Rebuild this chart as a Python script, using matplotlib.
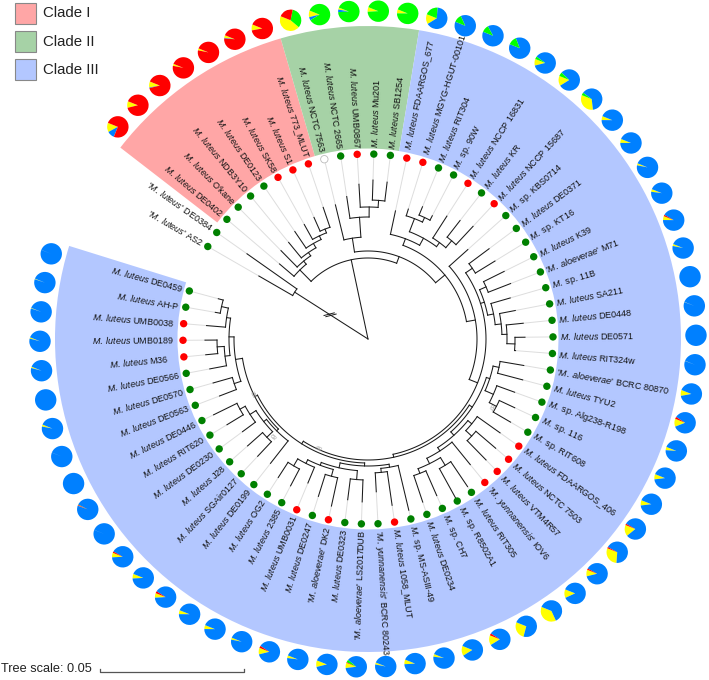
import numpy as np
import matplotlib
matplotlib.use("Agg")
import matplotlib.pyplot as plt
from matplotlib.patches import Wedge, Rectangle, Circle

plt.rcParams['font.family'] = ['Liberation Sans', 'DejaVu Sans']
plt.rcParams['mathtext.fontset'] = 'custom'
plt.rcParams['mathtext.it'] = 'Liberation Sans:italic'
plt.rcParams['mathtext.rm'] = 'Liberation Sans'

ML = r"$\mathit{M.\;luteus}$"
MS = r"$\mathit{M.}$ sp."
AL = r"'$\mathit{M.\;aloeverae}$'"
YU = r"'$\mathit{M.\;yunnanensis}$'"
QL = r"'$\mathit{M.\;luteus}$'"

taxa = [QL+" AS2", QL+" DE0384", ML+" DE0402", ML+" O'kane", ML+" NDB3Y10", ML+" DE0123", ML+" SK58", ML+" S1",
        ML+" 773_MLUT", ML+" NCTC 7563", ML+" NCTC 2665", ML+" UMB0867", ML+" Mu201", ML+" SB1254",
        ML+" FDAARGOS_677", ML+" MGYG-HGUT-00101", ML+" RIT304", MS+" 90W", ML+" NCCP 16831", ML+" KR",
        ML+" NCCP 15687", MS+" KBS0714", ML+" DE0371", MS+" KT16", ML+" K39", AL+" M71", MS+" 11B", ML+" SA211",
        ML+" DE0448", ML+" DE0571", ML+" RIT324w", AL+" BCRC 80870", ML+" TYU2", MS+" Alg238-R198", MS+" 116",
        MS+" RIT608", ML+" FDAARGOS_406", ML+" NCTC 7503", ML+" VTM4R57", YU+" IOV6", ML+" RIT305", MS+" R8502A1",
        MS+" CH7", ML+" DE0234", MS+" MS-ASIII-49", ML+" 1058_MLUT", YU+" BCRC 80243", AL+" LS2017DUB",
        ML+" DE0323", AL+" DK2", ML+" DE0247", ML+" UMB0031", ML+" 2385", ML+" OG2", ML+" DE0199", ML+" SGAir0127",
        ML+" J28", ML+" DE0230", ML+" RIT620", ML+" DE0446", ML+" DE0563", ML+" DE0570", ML+" DE0566", ML+" M36",
        ML+" UMB0189", ML+" UMB0038", ML+" AH-P", ML+" DE0459"]

red_tips = [7, 8, 9, 12, 15, 16, 19, 21, 37, 38, 39, 40, 46, 50, 52, 64, 65, 66]
white_tips = [10]
label_extra = {15: 2, 16: 2, 64: 9, 65: 3, 66: 3}

# distance from root of each tip's black branch (in pixels of tree radius)
tip_r = [126, 148, 116, 124, 125, 130, 131, 133, 139, 138, 144, 155, 159, 158, 131, 136, 143, 139, 146, 150, 154,
         134, 151, 149, 152, 153, 148, 150, 156, 157, 148, 158, 160, 156, 162, 165, 162, 168, 169, 162, 178, 182,
         171, 172, 176, 168, 153, 163, 162, 171, 165, 156, 166, 165, 158, 161, 161, 156, 165, 172, 159, 161, 161,
         163, 163, 162, 155, 155]

# pie fractions for tips 3..68 (drawn counter-clockwise: yellow, blue, green, red)
pie_yellow = [.14, .10, .09, .03, .03, .04, .09, .45, .10, .03, .07, .06, .15, 0, 0, 0, .10, .15, .33, .06, .06, .03,
              .04, .06, .03, 0, .005, 0, .005, .09, .12, .05, .08, .08, .17, .30, .10, .13, .38, .27, .15, .15, .04,
              .07, .03, .08, .10, .04, .10, .03, .06, .06, .07, .07, .07, .002, .004, 0, .002, .03, 0, .02, .02, .01,
              .01, .002]
pie_red = [.75, .90, .90, .97, .97, .95, .91, .22, 0, 0, 0, 0, 0, 0, 0, 0, 0, 0, 0, 0, 0, 0, 0, .02, 0, 0, 0, 0, 0, 0,
           .03, 0, 0, 0, .02, .02, .02, 0, 0, 0, .03, 0, 0, 0, 0, .01, 0, 0, .03, 0, 0, 0, .03, 0, .02, 0, .01, 0, 0,
           0, 0, 0, 0, 0, 0, 0]
pie_green = [0, 0, 0, 0, 0, 0, 0, .33, .85, .93, .93, .94, .20, .12, .11, .13, .04, .06, .04, 0, 0, 0, 0, 0, 0, 0, 0,
             0, 0, 0, 0, 0, 0, 0, 0, 0, 0, 0, 0, 0, 0, 0, 0, 0, 0, .04, 0, 0, 0, 0, 0, 0, 0, 0, 0, 0, .004, 0, 0, 0, 0,
             0, 0, 0, 0, 0]

clade_names = ["Clade I", "Clade II", "Clade III"]
clade_colors = ["#ffa6a6", "#a6d2a6", "#b3c7ff"]
clade_spans = [(106.2, 142.3), (80.6, 106.2), (-197.3, 80.6)]

support_labels = ["82", "83", "89", "87"]
support_pos = [(125, -154.5), (134, -134.2), (118, -114.7), (139.6, -29)]

# tree: a node is (radius, child, child, ...), an int is a tip number
E = (87, 1, 2)
n6 = (118, 8, 9)
n5 = (114, 7, n6)
n4 = (110, 6, n5)
n3 = (105, 5, n4)
n2 = (101, 4, n3)
D = (97, 3, n2)
o = (139, 13, 14)
m = (132, 12, o)
n = (122, 11, m)
C = (102, 10, n)
N2 = (134, 17, 18)
M = (129, 16, N2)
R = (129, 20, 21)
Q = (120, 19, R)
K = (115, M, Q)
J = (107, 15, K)
W = (126, 23, 24)
Y1 = (129, 25, 26)
Y2 = (128, 27, (134, 28, (139, 29, (147, 30, 31))))
Y = (122, Y1, Y2)
Y3 = (128, (134, 32, 33), (137, 34, (145, 35, 36)))
Q4 = (134, 37, (142, 38, 39))
P4 = (139, (148, 41, 42), (144, 43, 44))
P3 = (133, 40, P4)
P2 = (129, Q4, P3)
V = (124.5, Y3, P2)
Gr = (130, 45, (134, 46, 47))
G1 = (147, 53, 54)
N139 = (139, 52, G1)
N135 = (135, (142, 50, 51), N139)
Br2 = (132, (141, 48, 49), N135)
Rt = (127, Br2, Gr)
G4 = (140, 58, (146, 59, 60))
G3 = (133, (141, 56, 57), G4)
G2 = (129.5, 55, G3)
G7 = (134, (141, 61, 62), (139, (144, 63, (151, 64, 65)), (143, 66, (150, 67, 68))))
LeftTop = (127, G2, G7)
Bottom = (124, Rt, LeftTop)
Big1 = (121, V, Bottom)
T = (118, W, Y, Big1)
S = (109, 22, T)
H = (100, J, S)
B = (88, C, H)
A = (81, D, B)
root_children = [E, A]

# layout
W_PX, H_PX = 709, 680
CX, CY = 368, 341
TIP_R, PIE_R, PIE_SIZE = 185, 328, 10.7
LABEL_R = 191.5
START, STEP = 150.0, 5.15
PIE_START = 158.0

fig = plt.figure(figsize=(W_PX/100, H_PX/100), dpi=100)
ax = fig.add_axes([0, 0, 1, 1])
ax.set_xlim(0, W_PX)
ax.set_ylim(0, H_PX)
ax.axis('off')


def tip_angle(i):
    return START - STEP*(i-1)


def pol(r, a):
    t = np.deg2rad(a)
    return CX + r*np.cos(t), CY + r*np.sin(t)


def seg(r0, r1, a, **kw):
    x0, y0 = pol(r0, a)
    x1, y1 = pol(r1, a)
    ax.plot([x0, x1], [y0, y1], **kw)


BL = dict(color='#1a1a1a', lw=0.75, solid_capstyle='projecting', zorder=3)


def node_angle(node):
    if isinstance(node, int):
        return tip_angle(node)
    return (node_angle(node[1]) + node_angle(node[-1]))/2


def draw(node, parent_r):
    a = node_angle(node)
    if isinstance(node, int):
        seg(parent_r, tip_r[node-1], a, **BL)
        return
    r = node[0]
    seg(parent_r, r, a, **BL)
    a0, a1 = node_angle(node[1]), node_angle(node[-1])
    th = np.linspace(a0, a1, 60)
    xs, ys = pol(r, th)
    ax.plot(xs, ys, **BL)
    for c in node[1:]:
        draw(c, r)


# clade backgrounds
for col, (a0, a1) in zip(clade_colors, clade_spans):
    ax.add_patch(Wedge((CX, CY), 313, a0, a1, width=313-190.5, fc=col, ec='none', zorder=1))

# tip guide lines, dots, labels
for i, name in enumerate(taxa, start=1):
    a = tip_angle(i)
    seg(tip_r[i-1], TIP_R-3, a, color='#dddddd', lw=0.7, zorder=2)
    if i in red_tips:
        fc, ec = '#ff0000', 'none'
    elif i in white_tips:
        fc, ec = '#ffffff', '#bbbbbb'
    else:
        fc, ec = '#008000', 'none'
    x, y = pol(TIP_R, a)
    ax.add_patch(Circle((x, y), 3.7, fc=fc, ec=ec, lw=0.6, zorder=4))
    x, y = pol(LABEL_R + label_extra.get(i, 0), a)
    norm = (a + 180) % 360 - 180
    right = -90 < norm < 90
    ax.text(x, y, name, fontsize=6.5, color='#111111', rotation=norm if right else norm+180,
            rotation_mode='anchor', ha='left' if right else 'right', va='center', zorder=5)

# tree
for c in root_children:
    draw(c, 0)

# axis break on the long root branch
a_break = node_angle(E)
xb, yb = pol(45, a_break)
tb = np.deg2rad(a_break)
for off in (-1.1, 1.1):
    px = xb + off*np.cos(tb)
    py = yb + off*np.sin(tb)
    dx, dy = np.cos(tb+0.82)*5.3, np.sin(tb+0.82)*5.3
    ax.plot([px-dx, px+dx], [py-dy, py+dy], color='#1a1a1a', lw=0.7, zorder=3)

# support values
for lab, (r, a) in zip(support_labels, support_pos):
    x, y = pol(r, a)
    ax.text(x, y, lab, fontsize=4.5, color='#a0a0a0', ha='center', va='center',
            rotation=a+90+180 if a < 0 else a-90, zorder=5)

# pies
for k, (fy, fr, fg) in enumerate(zip(pie_yellow, pie_red, pie_green)):
    i = k + 3
    x, y = pol(PIE_R, tip_angle(i))
    fb = max(0.0, 1 - fy - fr - fg)
    th = PIE_START
    for f, col in ((fy, '#ffff00'), (fb, '#0080ff'), (fg, '#00ff00'), (fr, '#ff0000')):
        if f > 0:
            ax.add_patch(Wedge((x, y), PIE_SIZE, th, th+360*f, fc=col, ec='none', zorder=4))
            th += 360*f

# legend
legend_y = [679-22.5, 679-51, 679-79]
for name, col, y in zip(clade_names, clade_colors, legend_y):
    ax.add_patch(Rectangle((15, y), 21, 21, fc=col, ec='#888888', lw=0.8, zorder=4))
    ax.text(43, y+10.5, name, fontsize=10.8, color='#222222', va='center', ha='left')

# tree scale
ax.text(1, 10.5, "Tree scale: 0.05", fontsize=9.2, color='#222222', va='center', ha='left')
ax.plot([100, 100, 244, 244], [11, 8, 8, 11], color='#555555', lw=0.9)

fig.savefig('out.png', dpi=100)
